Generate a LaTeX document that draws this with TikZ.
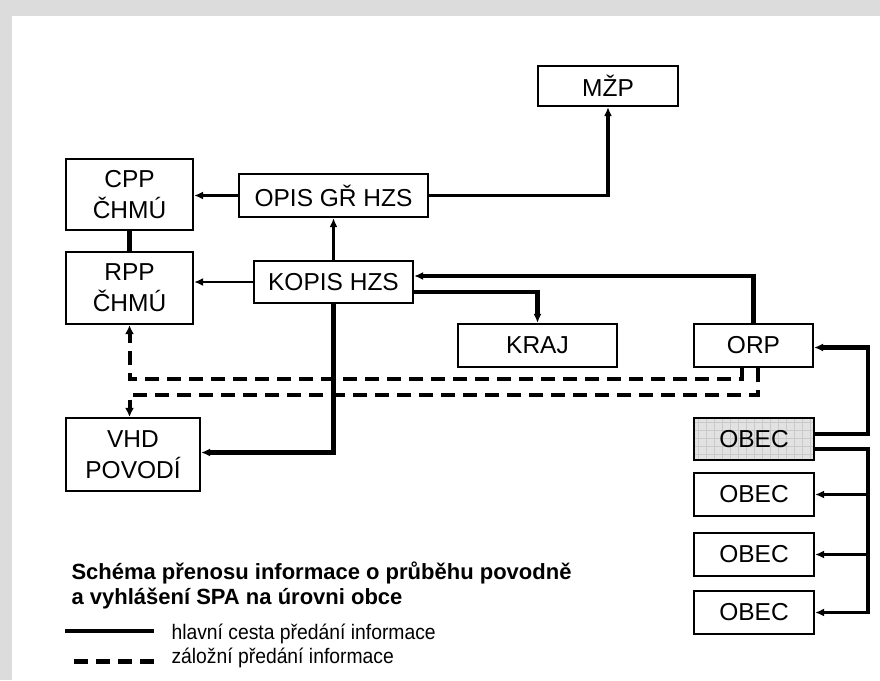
\documentclass[tikz,border=0pt]{standalone}
\usepackage{fontspec}
\setmainfont{Liberation Sans}
\newfontfamily\legfont[FakeStretch=0.92]{Liberation Sans}
\usetikzlibrary{arrows.meta}
\definecolor{bggrey}{HTML}{DCDCDC}
\definecolor{obecfill}{HTML}{E2E2E2}
\definecolor{obecgrid}{HTML}{C9C9C9}
\tikzset{
  box/.style={draw, line width=2.2pt, inner sep=0pt, align=center,
    font=\fontsize{24.5}{31}\selectfont},
  tip/.style={-{Latex[length=9pt,width=8pt]}},
  thinarr/.style={line width=2.6pt, tip},
  medarr/.style={line width=3.4pt, tip},
  thickarr/.style={line width=4.3pt, tip},
  dasharr/.style={line width=4pt, dash pattern=on 14pt off 8pt, -{Latex[length=9pt,width=9pt]}},
  legtext/.style={anchor=base west, font=\legfont\fontsize{21}{26}\selectfont},
  titletext/.style={anchor=base west, font=\bfseries\fontsize{22}{27}\selectfont},
}
\begin{document}
\begin{tikzpicture}[x=1pt,y=-1pt]
\fill[bggrey] (0,0) rectangle (880,680);
\fill[white] (11.5,15.5) rectangle (880,680);
\useasboundingbox (0,0) rectangle (880,680);

% grey OBEC background with grid
\fill[obecfill] (694,418) rectangle (814,460);
\begin{scope}
  \clip (694,418) rectangle (814,460);
  \foreach \gx in {698,706,...,814} \draw[obecgrid, line width=0.6pt] (\gx,418) -- (\gx,460);
  \foreach \gy in {422,430,...,460} \draw[obecgrid, line width=0.6pt] (694,\gy) -- (814,\gy);
\end{scope}

% nodes
\node[box, minimum width=140pt, minimum height=40pt] (MZP) at (608,86) {MŽP};
\node[box, minimum width=127pt, minimum height=71pt] (CPP) at (129.5,194.5) {CPP\\ČHMÚ};
\node[box, minimum width=189pt, minimum height=43pt] (OPIS) at (333.5,195.5) {OPIS GŘ HZS};
\node[box, minimum width=127pt, minimum height=72pt] (RPP) at (129.5,288) {RPP\\ČHMÚ};
\node[box, minimum width=159pt, minimum height=42pt] (KOPIS) at (333.5,282) {KOPIS HZS};
\node[box, minimum width=159pt, minimum height=43pt] (KRAJ) at (537.5,345.5) {KRAJ};
\node[box, minimum width=119pt, minimum height=43pt] (ORP) at (753.5,345.5) {ORP};
\node[box, minimum width=134pt, minimum height=73pt] (VHD) at (133,454.5) {VHD\\POVODÍ};
\node[box, minimum width=120pt, minimum height=42pt] (OBEC0) at (754,439) {OBEC};
\node[box, minimum width=120pt, minimum height=43pt] (OBEC1) at (754,494.5) {OBEC};
\node[box, minimum width=120pt, minimum height=43pt] (OBEC2) at (754,554.5) {OBEC};
\node[box, minimum width=120pt, minimum height=43pt] (OBEC3) at (754,612.5) {OBEC};

\coordinate (bus) at (868,0);

% solid connectors
\draw[line width=4.5pt] (CPP.south) -- (RPP.north);
\draw[medarr] (OPIS.west) -- (CPP.east |- OPIS.west);
\draw[thinarr] (KOPIS.north) -- (OPIS.south);
\draw[thinarr] (KOPIS.west) -- (RPP.east |- KOPIS.west);
\draw[medarr] (OPIS.east) -| (MZP.south);
\draw[thickarr] ([yshift=-10pt]KOPIS.east) -| (KRAJ.north);
\draw[thickarr] (ORP.north) |- ([yshift=6pt]KOPIS.east);
\draw[thickarr] (KOPIS.south) |- ([yshift=2pt]VHD.east);
\draw[thickarr] ([yshift=5pt]OBEC0.east) -- ([yshift=5pt]OBEC0.east -| bus) |- ([yshift=-2pt]ORP.east);
\draw[medarr] ([yshift=-10pt]OBEC0.east) -- ([yshift=-10pt]OBEC0.east -| bus) |- (OBEC3.east);
\draw[thinarr] (OBEC1.east -| bus) -- (OBEC1.east);
\draw[thinarr] (OBEC2.east -| bus) -- (OBEC2.east);

% dashed connectors
\draw[dasharr] ([xshift=-11.5pt]ORP.south) -- ++(0,11) -| (RPP.south);
\draw[dasharr] ([xshift=4.5pt]ORP.south) -- ++(0,27) -| (RPP.south |- VHD.north);

% legend
\node[titletext] (t1) at (68,579) {Schéma přenosu informace o průběhu povodně};
\node[titletext] (t2) at (68,604) {a vyhlášení SPA na úrovni obce};
\coordinate (la) at (65,631);
\coordinate (lb) at (154,631);
\coordinate (lc) at (74,661);
\coordinate (ld) at (154,661);
\draw[line width=4pt] (la) -- (lb);
\draw[line width=5pt, dash pattern=on 14pt off 8pt] (lc) -- (ld);
\node[legtext] (l1) at (168,639) {hlavní cesta předání informace};
\node[legtext] (l2) at (168,663) {záložní předání informace};
\end{tikzpicture}
\end{document}
